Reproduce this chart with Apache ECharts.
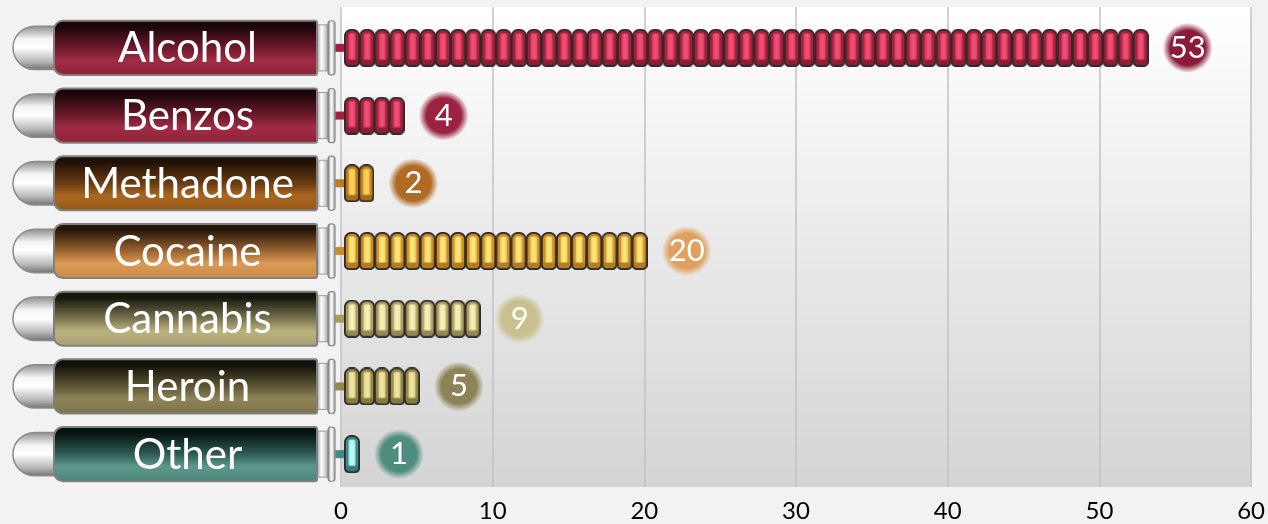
<!DOCTYPE html>
<html><head><meta charset="utf-8">
<script src="https://cdn.jsdelivr.net/npm/echarts@6/dist/echarts.min.js"></script>
<style>html,body{margin:0;padding:0;background:#f2f2f2}#c{width:1268px;height:524px}</style>
</head><body><div id="c"></div>
<script>
// ---- data ----
const categories = ['Alcohol', 'Benzos', 'Methadone', 'Cocaine', 'Cannabis', 'Heroin', 'Other'];
const values = [53, 4, 2, 20, 9, 5, 1];
const xTicks = [0, 10, 20, 30, 40, 50, 60];

// ---- palette (style only) ----
// syringe body: [top, mid, bright, bottom]
const bodyColors = [
  ['#1a0509', '#6e1a2c', '#a02c45', '#8e2238'],
  ['#1a0509', '#6e1a2c', '#a02c45', '#8e2238'],
  ['#1e1006', '#6a3c12', '#ab661f', '#945818'],
  ['#24160a', '#9a6430', '#dc9a55', '#c88a48'],
  ['#16160c', '#7a7450', '#bab27e', '#a8a070'],
  ['#121008', '#5e5634', '#8e8458', '#7c7248'],
  ['#061210', '#2e5c54', '#5e988c', '#4c8478']
];
// capsule: [edge, inner, highlight]
const pillColors = [
  ['#a5203f', '#e23e5e', '#f0557a'],
  ['#a5203f', '#e23e5e', '#f0557a'],
  ['#bf7a1e', '#f0c046', '#f8d860'],
  ['#cc8c28', '#f4d45e', '#faea80'],
  ['#a89e5e', '#e8e2a2', '#f6f2c0'],
  ['#968a4a', '#e0d48c', '#efe6a8'],
  ['#3f8e86', '#9eeaea', '#c4fafa']
];
const bubbleColors = ['#8c1a3a', '#9c2242', '#b06a24', '#e0a05e', '#c8c08e', '#8c8458', '#4e8c80'];

function hexA(h, a) {
  const r = parseInt(h.slice(1, 3), 16), g = parseInt(h.slice(3, 5), 16), b = parseInt(h.slice(5, 7), 16);
  return 'rgba(' + r + ',' + g + ',' + b + ',' + a + ')';
}

function capsulePath(ctx, x, y, w, h, rt, rb) {
  ctx.beginPath();
  ctx.moveTo(x, y + rt);
  ctx.arcTo(x, y, x + rt, y, rt);
  ctx.lineTo(x + w - rt, y);
  ctx.arcTo(x + w, y, x + w, y + rt, rt);
  ctx.lineTo(x + w, y + h - rb);
  ctx.arcTo(x + w, y + h, x + w - rb, y + h, rb);
  ctx.lineTo(x + rb, y + h);
  ctx.arcTo(x, y + h, x, y + h - rb, rb);
  ctx.closePath();
}

function makePill(pc) {
  const s = 4, W = 16, H = 38;
  const cv = document.createElement('canvas');
  cv.width = W * s; cv.height = H * s;
  const ctx = cv.getContext('2d');
  ctx.scale(s, s);
  // dark outline
  capsulePath(ctx, 0, 0, W, H, 7.2, 5);
  ctx.fillStyle = '#2f2a2a';
  ctx.fill();
  // edge colour
  capsulePath(ctx, 1.8, 1.8, W - 3.6, H - 3.6, 5.6, 3.5);
  ctx.fillStyle = pc[0];
  ctx.fill();
  // inner lighter body
  const ig = ctx.createLinearGradient(4.5, 0, 11.5, 0);
  ig.addColorStop(0, pc[1]); ig.addColorStop(0.5, pc[2]); ig.addColorStop(1, pc[1]);
  ctx.fillStyle = ig;
  capsulePath(ctx, 4.6, 4.6, 6.8, 26, 1.5, 0.5);
  ctx.fill();
  // bottom shade
  ctx.fillStyle = 'rgba(0,0,0,0.12)';
  capsulePath(ctx, 1.8, 30.5, W - 3.6, H - 32.3, 0.5, 3.5);
  ctx.fill();
  return 'image://' + cv.toDataURL();
}

const chart = echarts.init(document.getElementById('c'));
const G = echarts.graphic;

function renderSyringe(params, api) {
  const idx = api.value(1);
  const left = api.coord([0, idx]);
  const right = api.coord([1, idx]);
  const band = api.size([0, 1])[1];
  const cy = left[1];
  const x0 = left[0], x1 = right[0];
  const bodyH = band * 0.8, capH = band * 0.64;
  const bc = bodyColors[idx];
  const metalH = new G.LinearGradient(0, 0, 1, 0, [
    { offset: 0, color: '#5a5a5a' }, { offset: 0.45, color: '#ffffff' },
    { offset: 0.7, color: '#d8d8d8' }, { offset: 1, color: '#7a7a7a' }]);
  const bodyL = x0 + 41, bodyR = x1 - 18;
  return {
    type: 'group',
    children: [
      { // needle connector
        type: 'rect', z2: 0,
        shape: { x: x1 - 2, y: cy - 4, width: 14, height: 8 },
        style: { fill: pillColors[idx][0] }
      },
      { // cap
        type: 'rect', z2: 1,
        shape: { x: x0, y: cy - capH / 2, width: 50, height: capH, r: [capH / 2, 0, 0, capH / 2] },
        style: {
          fill: new G.LinearGradient(0, 0, 0, 1, [
            { offset: 0, color: '#8a8a8a' }, { offset: 0.3, color: '#f4f4f4' },
            { offset: 0.5, color: '#ffffff' }, { offset: 0.8, color: '#b8b8b8' }, { offset: 1, color: '#6e6e6e' }]),
          stroke: '#8a8a8a', lineWidth: 1.5
        }
      },
      { // neck
        type: 'rect', z2: 1,
        shape: { x: bodyR - 2, y: cy - band * 0.34, width: 14, height: band * 0.68 },
        style: { fill: metalH, stroke: '#9a9a9a', lineWidth: 1 }
      },
      { // flange
        type: 'rect', z2: 2,
        shape: { x: x1 - 7, y: cy - bodyH / 2, width: 7, height: bodyH, r: [3, 3, 3, 3] },
        style: { fill: metalH, stroke: '#8a8a8a', lineWidth: 1.2 }
      },
      { // body
        type: 'rect', z2: 3,
        shape: { x: bodyL, y: cy - bodyH / 2, width: bodyR - bodyL, height: bodyH, r: [9, 2, 2, 9] },
        style: {
          fill: new G.LinearGradient(0, 0, 0, 1, [
            { offset: 0, color: bc[0] }, { offset: 0.12, color: bc[0] },
            { offset: 0.5, color: bc[1] }, { offset: 0.72, color: bc[2] }, { offset: 1, color: bc[3] }]),
          stroke: '#808080', lineWidth: 2
        }
      },
      {
        type: 'text', z2: 4,
        style: {
          text: categories[idx], x: (bodyL + bodyR) / 2 + 2, y: cy + 1,
          fill: '#ffffff', fontSize: 42, fontFamily: 'Lato',
          align: 'center', verticalAlign: 'middle'
        }
      }
    ]
  };
}

const barData = values.map((v, i) => {
  const bub = bubbleColors[i];
  return {
    value: v,
    symbolRepeat: v,
    symbolBoundingData: v,
    symbol: makePill(pillColors[i]),
    label: {
      rich: {
        v: {
          width: 50, height: 50, lineHeight: 50, align: 'center',
          color: '#ffffff', fontSize: 31, fontFamily: 'Lato',
          borderRadius: 25,
          backgroundColor: {
            type: 'radial', x: 0.5, y: 0.5, r: 0.5,
            colorStops: [{ offset: 0, color: bub }, { offset: 0.7, color: bub }, { offset: 1, color: hexA(bub, 0) }]
          }
        }
      }
    }
  };
});

chart.setOption({
  animation: false,
  backgroundColor: '#f2f2f2',
  grid: [
    { left: 13, width: 322, top: 14, bottom: 36 },                 // syringe labels
    { left: 341, right: 16, top: 14, bottom: 36 },                 // bars
    { left: 341, right: 16, top: 7, bottom: 37, show: true, borderWidth: 0, z: 0,
      backgroundColor: new G.LinearGradient(0, 0, 0, 1, [
        { offset: 0, color: '#ffffff' }, { offset: 1, color: '#d4d4d4' }]) } // frame + axis
  ],
  xAxis: [
    { gridIndex: 0, type: 'value', min: 0, max: 1, show: false },
    { gridIndex: 1, type: 'value', min: 0, max: 60, interval: 10, show: false },
    { gridIndex: 2, type: 'value', min: xTicks[0], max: xTicks[xTicks.length - 1], interval: 10,
      axisLine: { show: false }, axisTick: { show: false },
      axisLabel: { color: '#000', fontSize: 24, fontFamily: 'Lato', margin: 12 },
      splitLine: { show: true, lineStyle: { color: '#c2c2c2', width: 1.5 } } }
  ],
  yAxis: [
    { gridIndex: 0, type: 'category', data: categories, inverse: true, show: false },
    { gridIndex: 1, type: 'category', data: categories, inverse: true, show: false },
    { gridIndex: 2, type: 'category', data: categories, inverse: true, show: false }
  ],
  series: [
    {
      type: 'custom', xAxisIndex: 0, yAxisIndex: 0, z: 1,
      renderItem: renderSyringe,
      data: categories.map((c, i) => [1, i]),
      encode: { x: 0, y: 1 }
    },
    {
      type: 'pictorialBar', xAxisIndex: 1, yAxisIndex: 1, z: 3,
      symbolSize: [16, 38],
      symbolPosition: 'start',
      symbolOffset: [3, 0],
      label: { show: true, position: 'right', distance: 14, formatter: '{v|{c}}' },
      data: barData
    }
  ]
});
</script></body></html>
